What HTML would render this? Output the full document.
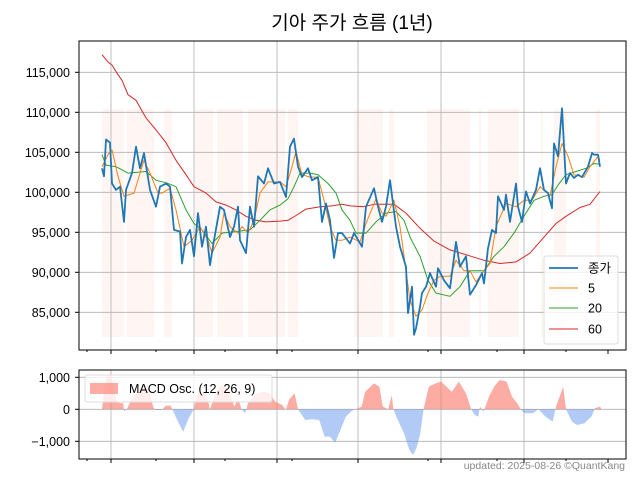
<!DOCTYPE html>
<html><head><meta charset="utf-8"><style>
body{margin:0;background:#fff;}
svg{display:block;font-family:"Liberation Sans","Noto Sans CJK KR",sans-serif;}
</style></head><body>
<svg id="c" width="640" height="480" xmlns="http://www.w3.org/2000/svg"></svg>
<script>
const closeDays=[0,1,2,4,5,7,9,11,12,15,17,19,21,24,27,29,32,34,36,39,40,42,44,46,48,50,52,54,56,59,61,64,66,68,69,72,74,76,78,81,83,86,89,92,94,96,98,100,103,105,108,110,112,114,116,118,120,124,126,130,132,136,138,140,142,144,147,149,152,153,155,156,157,159,160,162,164,167,168,171,174,177,179,182,184,187,190,191,193,195,197,198,201,202,204,207,208,210,212,214,217,219,221,223,225,226,228,230,232,234,236,238,240,243,245,246,248,249];
const closeVals=[103.0,102,106.6,106.2,101.1,100.3,100.7,96.3,100.3,102.4,105.7,103,104.9,100.3,98.2,100.7,101.1,100.7,95.3,95.1,91.1,94.4,95.3,92,97.4,93.2,95.7,90.9,94,98.2,97.8,94.4,95.7,98.2,94,92.4,98.2,95.7,102,101.1,103,101.1,101.3,99.4,105.7,106.7,103.2,101.9,103,101.5,101.9,96.3,98.6,96.5,91.8,94.9,94.9,93.6,94.9,93.2,98.2,100.5,98.2,96.3,98.2,101.5,95.7,93.2,90.7,84.9,88.2,82.2,83,85.7,87.4,88.2,89.9,88.2,90.5,89,88,93.8,90.7,92,87.2,88.4,89.9,88.6,93,95.3,94.9,99.5,97.8,99.7,96.3,101.1,98.2,96.3,100.1,98.6,100.3,103,100.3,99.9,98,106.1,104.5,110.5,101.1,102.4,101.8,102.2,101.9,103.2,104.9,104.7,104.7,103.2];
const ma5Days=[0,3,5,8,11,16,19,21,24,28,30,34,37,41,45,49,53,55,59,61,64,68,70,73,76,79,83,89,92,95,97,100,104,108,111,114,117,120,124,129,132,137,140,142,146,149,152,154,157,160,163,166,169,174,177,181,184,187,191,194,197,202,207,211,215,219,224,227,230,233,236,241,244,248,249];
const ma5Vals=[103.2,104.7,105.3,102,99.5,99.9,102.4,104,102.4,99.9,99.9,100.5,97.8,93.2,94,95.7,94,92.4,94.4,97.4,95.7,94.9,95.7,94.9,96.5,99.9,101.3,101.3,100.7,103.2,105.1,102.2,101.9,101.9,99,95.7,94,94,94.4,93.8,96.1,99.2,97.4,97,99,95.7,90.2,86.5,84.5,85.3,87.4,89,89.5,89.5,91.5,90.2,90.2,88.8,90.2,91.1,95.7,98.6,98.2,99,99,100.7,99.6,103.2,106.1,104.5,102.2,101.9,103.2,104.5,104];
const ma20Days=[0,2,7,13,22,27,32,37,42,46,50,55,60,67,74,79,84,89,93,96,99,104,108,113,117,120,124,127,132,137,142,147,151,154,159,163,167,174,179,184,191,196,201,206,211,216,221,225,228,232,237,242,246,249];
const ma20Vals=[104.7,103.4,103.2,102.4,102.6,101.5,101.2,100.7,97.8,96.1,95.3,93.6,94.9,95.1,95.3,96.5,97.8,98.4,99.2,100.7,102.4,102.4,102.2,101.1,99.9,97.8,96.5,94.9,94.9,96.3,97.4,97.6,96.5,94.4,92,89,87.4,87,88.2,90.2,90.2,92,93.2,94.9,97,99,99.5,99.7,100.9,102.2,102.6,103,103.6,103.5];
const ma60Days=[0,3,5,8,10,13,17,22,27,32,37,42,46,52,57,62,67,72,77,82,89,93,97,102,109,115,120,124,131,136,146,152,159,166,174,182,191,199,207,214,221,227,232,239,244,249];
const ma60Vals=[117.2,116.3,115.9,114.7,114,112.2,111.5,109.3,107.8,106.2,104,102.2,100.7,99.9,98.8,98.4,97.8,97,96.5,96.3,96.4,96.5,97.1,97.9,98.2,98.3,98.5,98.3,98.2,98.5,98.5,97.4,95.5,93.9,92.8,92.2,91.5,91.1,91.3,92.4,94.4,96.1,97,98.1,98.5,100.1];
const macdDays=[0,1.2,2.6,4.8,6.2,7.9,10.6,11.1,12.4,15,18.5,21.2,23.8,25.6,26.5,30,31.8,34.4,35.3,38,40.6,43.3,45.9,47.7,50.3,53,53.9,57.4,59.2,62.7,64.5,66.2,68,69.8,71.5,73.3,75.1,77.7,80.4,83.9,86.6,90.1,91.9,93.6,96.3,98,101.6,105.1,108.6,111.3,113.9,116.6,119.2,121.9,124.5,126.3,128.1,129.8,131.6,136,138.7,140.4,143.1,144.9,145.7,147.5,151,153.7,155.5,157.2,159,160.8,163.4,167,169.6,172.2,174.9,178.4,182,184.6,186.4,188.1,189,190.8,193.5,196.1,198.8,202.3,205,207.6,209.4,211.1,215.5,218.2,221.7,225.3,227,228.8,230.6,232,235,237.6,241.2,244.7,246.5,249.1,250];
const macdVals=[0,655,1070,1100,500,208,187,-73,0,343,550,655,500,83,-20,-20,114,114,-20,-385,-700,-280,0,500,550,290,0,550,760,655,395,83,343,0,-125,240,343,500,550,500,240,135,-20,312,500,0,-333,-312,-333,-853,-853,-1040,-645,-229,-73,0,31,83,550,811,707,83,0,447,0,-280,-750,-1270,-1425,-1217,-800,0,707,811,863,707,550,863,500,0,-177,-229,83,-73,395,707,915,863,395,187,0,-125,-125,0,-229,-385,83,395,707,0,-385,-490,-437,-229,31,83,-42];
const bandStart=[0,12.5,31,46.5,57.5,73,93,126,143.5,162.5,188.5,193,219.5,226,247];
const bandEnd=[11,26,35,55.5,70.5,91.5,98,140.5,146,184,189.5,208.5,220.5,232,249];
const yTicks=[85,90,95,100,105,110,115];
const macdTicks=[1000,0,-1000];
const macdTickLabels=["1,000","0","\u22121,000"];

const NS="http://www.w3.org/2000/svg";
const svg=document.getElementById('c');
function el(tag,attrs,parent){const e=document.createElementNS(NS,tag);for(const k in attrs)e.setAttribute(k,attrs[k]);(parent||svg).appendChild(e);return e;}
const X0=79,X1=626,Y0=41,Y1=350,M0=370,M1=459;
const xs=d=>102+d*2;
const ys=v=>72.3+(115-v)*8;
const ym=v=>409.3-v*0.032;

let t=el('text',{x:352,y:29,'text-anchor':'middle','font-size':19,fill:'#000'});t.textContent='기아 주가 흐름 (1년)';



bandStart.forEach((s,i)=>{const r=el('rect',{x:xs(s),y:109,width:Math.max(1.5,xs(bandEnd[i])-xs(s)),height:228,fill:'#fff6f4'});

});

const major=[111,194,277,358,441,524];
const minor=[87,156,225,292,428,497,566];
major.forEach(x=>{el('line',{x1:x,x2:x,y1:Y0,y2:Y1,stroke:'#b0b0b0','stroke-width':0.8});el('line',{x1:x,x2:x,y1:M0,y2:M1,stroke:'#b0b0b0','stroke-width':0.8});});
yTicks.forEach(v=>{const y=ys(v);el('line',{x1:X0,x2:X1,y1:y,y2:y,stroke:'#b0b0b0','stroke-width':0.8});
const l=el('text',{x:70,y:y+4.5,'text-anchor':'end','font-size':12.5,fill:'#000'});l.textContent=(v*1000).toLocaleString('en-US');


el('line',{x1:X0-4,x2:X0,y1:y,y2:y,stroke:'#000'});});
macdTicks.forEach((v,i)=>{const y=ym(v);el('line',{x1:X0,x2:X1,y1:y,y2:y,stroke:'#b0b0b0','stroke-width':0.8});
const l=el('text',{x:70,y:y+4.5,'text-anchor':'end','font-size':12.5,fill:'#000'});l.textContent=macdTickLabels[i];


el('line',{x1:X0-4,x2:X0,y1:y,y2:y,stroke:'#000'});});
[...major,608].forEach(x=>{el('line',{x1:x,x2:x,y1:Y1,y2:Y1+4,stroke:'#000'});el('line',{x1:x,x2:x,y1:M1,y2:M1+4,stroke:'#000'});});
minor.forEach(x=>{el('line',{x1:x,x2:x,y1:Y1,y2:Y1+2,stroke:'#000'});el('line',{x1:x,x2:x,y1:M1,y2:M1+2,stroke:'#000'});});

function line(days,vals,color,w,name){const p=el('polyline',{points:days.map((d,i)=>xs(d)+','+ys(vals[i])).join(' '),fill:'none',stroke:color,'stroke-width':w,'stroke-linejoin':'round'});

}
line(ma60Days,ma60Vals,'#d62728',1,'ma60-line');
line(ma20Days,ma20Vals,'#2ca02c',1,'ma20-line');
line(ma5Days,ma5Vals,'#ff7f0e',1,'ma5-line');
line(closeDays,closeVals,'#1f77b4',1.8,'close-line');

const defs=el('defs',{});
const cp1=el('clipPath',{id:'pos'},defs);el('rect',{x:X0,y:M0,width:X1-X0,height:ym(0)-M0},cp1);
const cp2=el('clipPath',{id:'neg'},defs);el('rect',{x:X0,y:ym(0),width:X1-X0,height:M1-ym(0)},cp2);
const pts=xs(macdDays[0])+','+ym(0)+' '+macdDays.map((d,i)=>xs(d)+','+ym(macdVals[i])).join(' ')+' '+xs(macdDays[macdDays.length-1])+','+ym(0);
let a=el('polygon',{points:pts,fill:'#fa8072','fill-opacity':0.65,'clip-path':'url(#pos)'});


a=el('polygon',{points:pts,fill:'#6495ed','fill-opacity':0.5,'clip-path':'url(#neg)'});



let f=el('rect',{x:X0,y:Y0,width:X1-X0,height:Y1-Y0,fill:'none',stroke:'#000','stroke-width':1});


f=el('rect',{x:X0,y:M0,width:X1-X0,height:M1-M0,fill:'none',stroke:'#000','stroke-width':1});



const lg=el('g',{});


el('rect',{x:544,y:256,width:74,height:88,rx:2,fill:'#fff','fill-opacity':0.8,stroke:'#ddd'},lg);
[['종가','#1f77b4',1.8,268],['5','#ff7f0e',1,288],['20','#2ca02c',1,308],['60','#d62728',1,329]].forEach(e=>{
const g=el('g',{},lg);


el('line',{x1:549,x2:578,y1:e[3],y2:e[3],stroke:e[1],'stroke-width':e[2]},g);
const tx=el('text',{x:588,y:e[3]+4.5,'font-size':12.5,fill:'#000'},g);tx.textContent=e[0];});

const ml=el('g',{});


el('rect',{x:85,y:375,width:187,height:27,rx:2,fill:'#fff','fill-opacity':0.8,stroke:'#ddd'},ml);
el('rect',{x:90,y:383,width:28,height:11,fill:'#fa8072','fill-opacity':0.65},ml);
const mt=el('text',{x:129,y:393,'font-size':12.5,fill:'#000'},ml);mt.textContent='MACD Osc. (12, 26, 9)';

const ft=el('text',{x:625,y:469,'text-anchor':'end','font-size':10.5,fill:'#888'});ft.textContent='updated: 2025-08-26 ©QuantKang';


</script>
</body></html>
